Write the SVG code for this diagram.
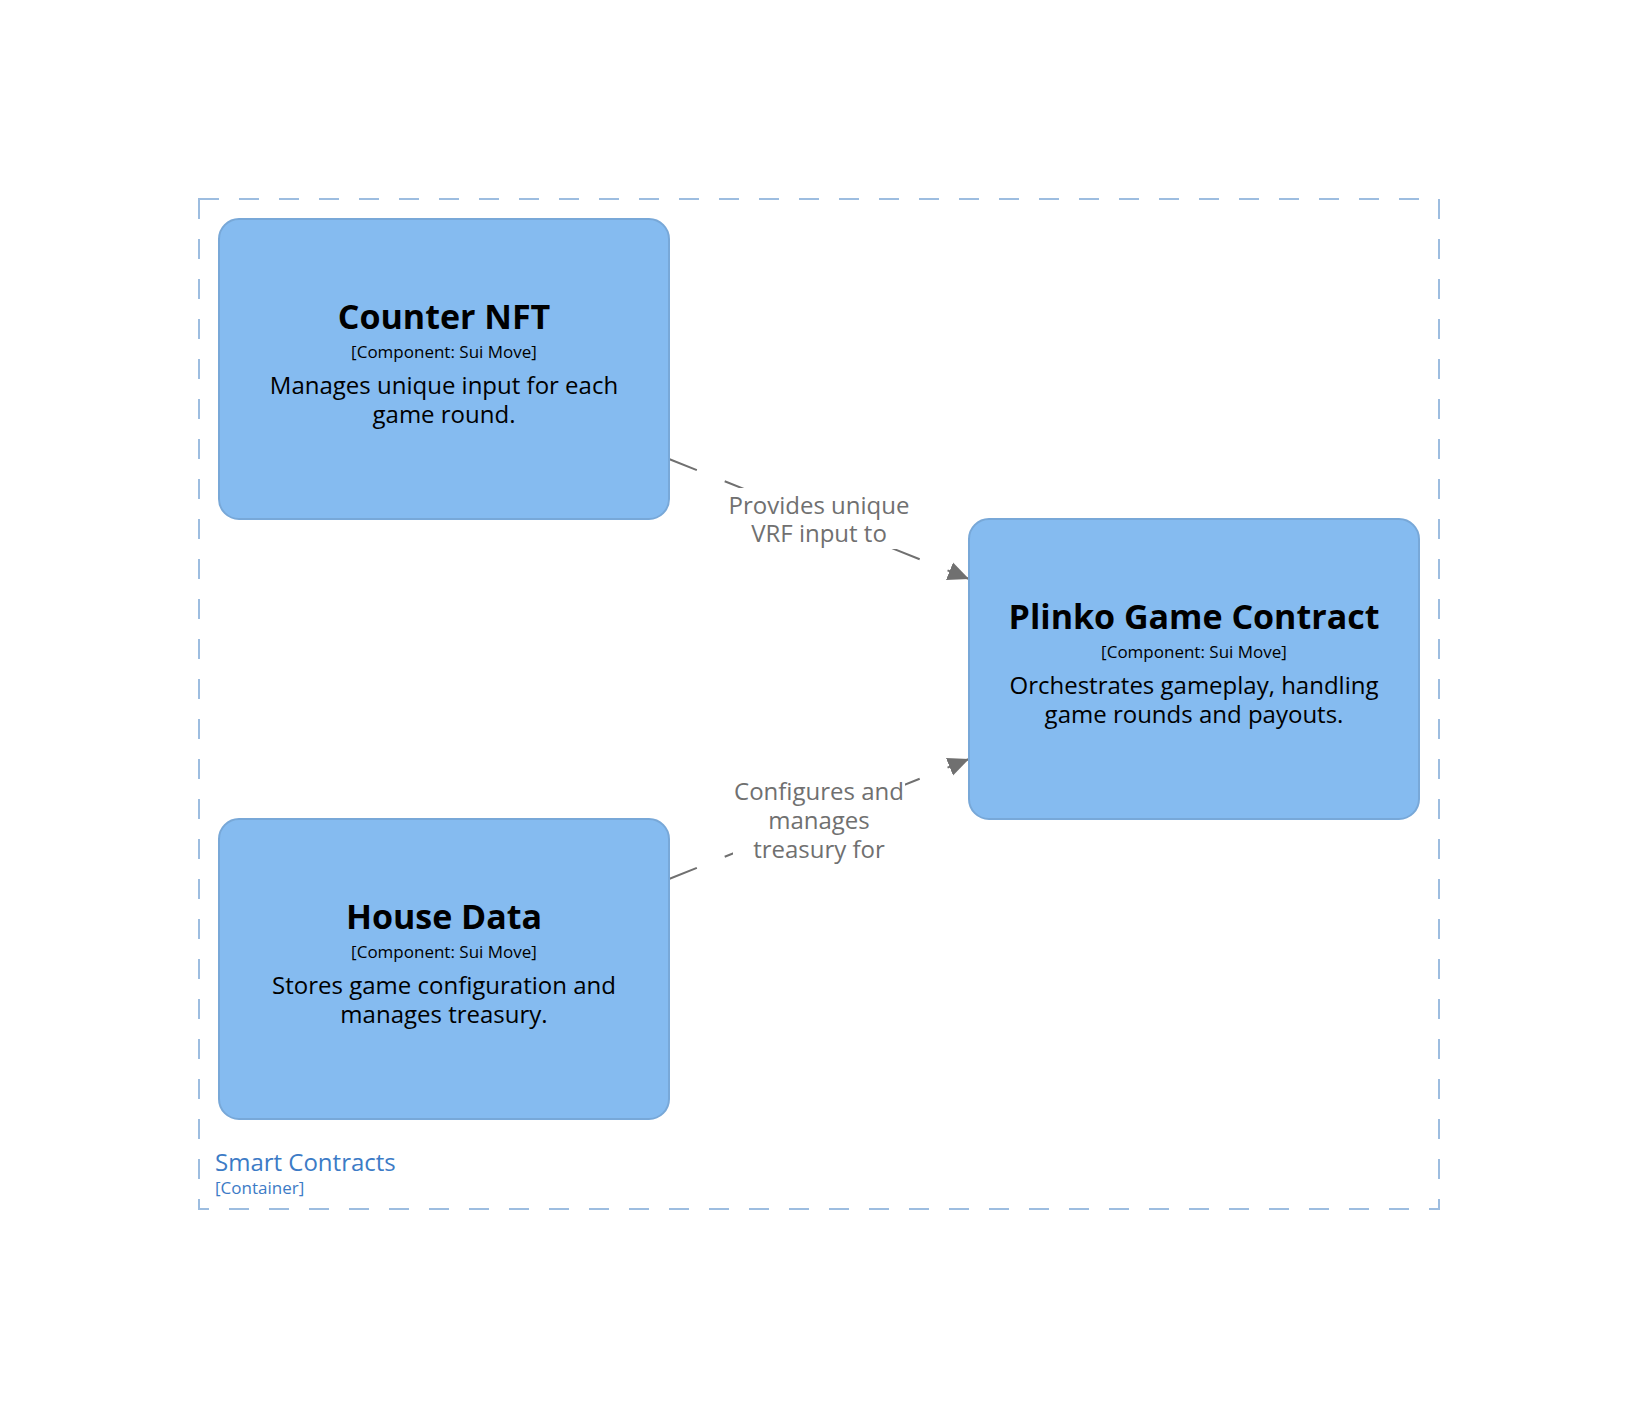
<svg xmlns="http://www.w3.org/2000/svg" width="1640" height="1411" viewBox="0 0 1640 1411">
<style>
  .box { fill: #85BBF0; stroke: #78A8D8; stroke-width: 2; }
  .title { font-family: "Open Sans", "Noto Sans", sans-serif; font-weight: bold; font-size: 34px; fill: #000000; text-anchor: middle; }
  .meta { font-family: "Open Sans", "Noto Sans", sans-serif; font-size: 17px; fill: #000000; text-anchor: middle; }
  .desc { font-family: "Open Sans", "Noto Sans", sans-serif; font-size: 24px; fill: #000000; text-anchor: middle; }
  .edge { fill: none; stroke: #707070; stroke-width: 2; stroke-dasharray: 30 30; }
  .elabel { font-family: "Open Sans", "Noto Sans", sans-serif; font-size: 24px; fill: #707070; text-anchor: middle; }
  .lbg { fill: #FFFFFF; }
  .boundary { fill: none; stroke: #9DBDE0; stroke-width: 2; stroke-dasharray: 20 20; }
  .btitle { font-family: "Open Sans", "Noto Sans", sans-serif; font-size: 24px; fill: #3C7BC6; }
  .bmeta { font-family: "Open Sans", "Noto Sans", sans-serif; font-size: 17px; fill: #3C7BC6; }
</style>
<defs>
  <marker id="arrow" viewBox="0 -10 21 20" refX="21" refY="0" markerWidth="21" markerHeight="20" markerUnits="userSpaceOnUse" orient="auto">
    <path d="M0,-9.5 L21,0 L0,9.5 Z" fill="#707070"/>
  </marker>
</defs>
<rect width="1640" height="1411" fill="#FFFFFF"/>

<g id="boundary-smart-contracts">
  <rect class="boundary" x="199" y="199" width="1240" height="1010"/>
  <text class="btitle" x="215" y="1171">Smart Contracts</text>
  <text class="bmeta" x="215" y="1194">[Container]</text>
</g>

<g id="connectors">
  <path class="edge" d="M669,459 L969,579" marker-end="url(#arrow)"/>
  <path class="edge" d="M669,879 L969,759" marker-end="url(#arrow)"/>
  <g id="label-provides">
    <rect class="lbg" x="727" y="488" width="183" height="61"/>
    <text class="elabel" x="819" y="514">Provides unique</text>
    <text class="elabel" x="819" y="542">VRF input to</text>
  </g>
  <g id="label-configures">
    <rect class="lbg" x="733" y="775" width="172" height="90"/>
    <text class="elabel" x="819" y="800">Configures and</text>
    <text class="elabel" x="819" y="829">manages</text>
    <text class="elabel" x="819" y="858">treasury for</text>
  </g>
</g>

<g id="node-counter-nft">
  <rect class="box" x="219" y="219" width="450" height="300" rx="20" ry="20"/>
  <text class="title" x="444" y="329">Counter NFT</text>
  <text class="meta" x="444" y="358">[Component: Sui Move]</text>
  <text class="desc" x="444" y="394">Manages unique input for each</text>
  <text class="desc" x="444" y="423">game round.</text>
</g>

<g id="node-plinko-game-contract">
  <rect class="box" x="969" y="519" width="450" height="300" rx="20" ry="20"/>
  <text class="title" x="1194" y="629">Plinko Game Contract</text>
  <text class="meta" x="1194" y="658">[Component: Sui Move]</text>
  <text class="desc" x="1194" y="694">Orchestrates gameplay, handling</text>
  <text class="desc" x="1194" y="723">game rounds and payouts.</text>
</g>

<g id="node-house-data">
  <rect class="box" x="219" y="819" width="450" height="300" rx="20" ry="20"/>
  <text class="title" x="444" y="929">House Data</text>
  <text class="meta" x="444" y="958">[Component: Sui Move]</text>
  <text class="desc" x="444" y="994">Stores game configuration and</text>
  <text class="desc" x="444" y="1023">manages treasury.</text>
</g>
</svg>
